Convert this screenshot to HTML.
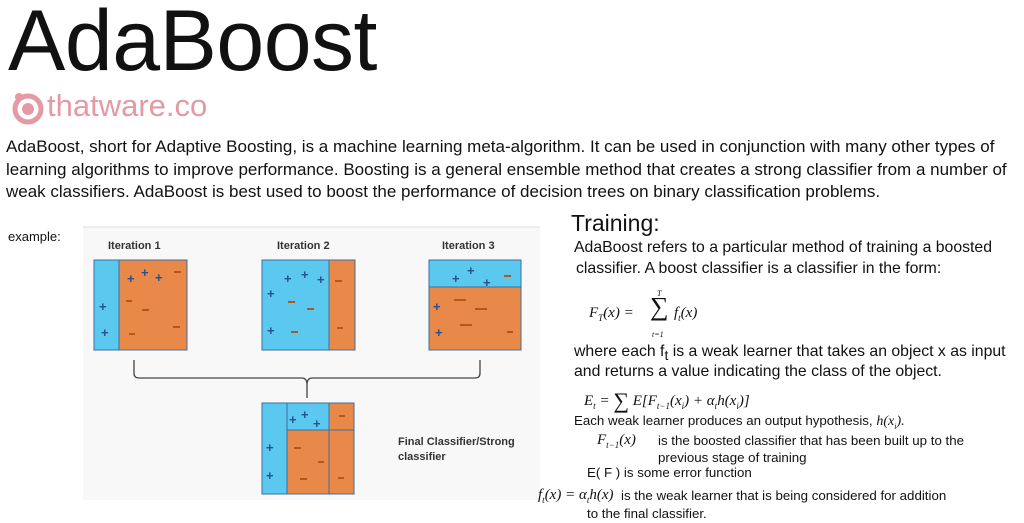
<!DOCTYPE html>
<html><head><meta charset="utf-8"><style>
body{margin:0;width:1024px;height:523px;background:#fff;position:relative;overflow:hidden;font-family:"Liberation Sans",sans-serif;color:#111}
.a{position:absolute;white-space:nowrap}
.m{font-family:"Liberation Serif",serif;font-style:italic}
.p{font-size:17px;line-height:22.5px;left:6px}
.t{font-size:15.8px}
.s{font-size:13.3px}
</style></head><body>
<div class="a" style="left:8px;top:-8px;font-size:86px;letter-spacing:-0.5px">AdaBoost</div>
<svg class="a" style="left:10px;top:90px" width="38" height="36" viewBox="0 0 38 36"><circle cx="18" cy="19" r="13" fill="none" stroke="#e49aa5" stroke-width="5"/><circle cx="18" cy="19" r="6" fill="#e49aa5"/><circle cx="9" cy="7" r="4" fill="#e49aa5"/></svg>
<div class="a" style="left:47px;top:88px;font-size:31px;color:#e49aa5">thatware.co</div>
<div class="a p" style="top:136px">AdaBoost, short for Adaptive Boosting, is a machine learning meta-algorithm. It can be used in conjunction with many other types of</div>
<div class="a p" style="top:158.5px">learning algorithms to improve performance. Boosting is a general ensemble method that creates a strong classifier from a number of</div>
<div class="a p" style="top:181px">weak classifiers. AdaBoost is best used to boost the performance of decision trees on binary classification problems.</div>
<div class="a" style="left:8px;top:229px;font-size:13px">example:</div>
<svg class="a" style="left:83px;top:226px" width="460" height="276" viewBox="83 226 460 276">
<rect x="83" y="227" width="457" height="273" fill="#f8f8f9"/>
<line x1="83" y1="227" x2="540" y2="227" stroke="#ddd"/>
<g font-family="Liberation Sans" font-weight="bold" font-size="11" fill="#333">
<text x="108" y="249">Iteration 1</text><text x="277" y="249">Iteration 2</text><text x="442" y="249">Iteration 3</text>
<text x="398" y="445">Final Classifier/Strong</text><text x="398" y="460">classifier</text></g>
<g stroke="#3d6f9e" stroke-width="1">
<rect x="94" y="260" width="25" height="90" fill="#5bc8f0"/><rect x="119" y="260" width="68" height="90" fill="#e8894a"/>
<rect x="262" y="260" width="67" height="90" fill="#5bc8f0"/><rect x="329" y="260" width="26" height="90" fill="#e8894a"/>
<rect x="429" y="260" width="92" height="27" fill="#5bc8f0"/><rect x="429" y="287" width="92" height="63" fill="#e8894a"/>
<rect x="262" y="403" width="25" height="91" fill="#5bc8f0"/><rect x="287" y="403" width="42" height="27" fill="#5bc8f0"/>
<rect x="287" y="430" width="42" height="64" fill="#e8894a"/><rect x="329" y="403" width="25" height="27" fill="#e8894a"/><rect x="329" y="430" width="25" height="64" fill="#e8894a"/>
</g>
<path d="M134 360 V373 Q134 378 139 378 H302 Q307 378 307 385 V398 M307 385 Q307 378 312 378 H475 Q480 378 480 373 V360" fill="none" stroke="#444" stroke-width="1.3"/>
<g fill="#2b4f8f" font-family="Liberation Sans" font-size="13" font-weight="bold">
<text x="99" y="311">+</text><text x="101" y="337">+</text><text x="127" y="283">+</text><text x="141" y="277">+</text><text x="155" y="282">+</text>
<text x="267" y="298">+</text><text x="267" y="335">+</text><text x="284" y="283">+</text><text x="301" y="279">+</text><text x="317" y="284">+</text>
<text x="452" y="283">+</text><text x="467" y="275">+</text><text x="483" y="287">+</text><text x="433" y="311">+</text><text x="435" y="337">+</text>
<text x="266" y="452">+</text><text x="266" y="480">+</text><text x="289" y="424">+</text><text x="301" y="419">+</text><text x="313" y="428">+</text>
</g>
<g stroke="#b5561f" stroke-width="2">
<line x1="174" y1="272" x2="181" y2="272"/><line x1="126" y1="301" x2="132" y2="301"/><line x1="142" y1="310" x2="149" y2="310"/><line x1="173" y1="327" x2="180" y2="327"/><line x1="129" y1="334" x2="135" y2="334"/>
<line x1="335" y1="281" x2="342" y2="281"/><line x1="288" y1="302" x2="295" y2="302"/><line x1="307" y1="309" x2="314" y2="309"/><line x1="337" y1="328" x2="343" y2="328"/><line x1="291" y1="332" x2="298" y2="332"/>
<line x1="504" y1="276" x2="511" y2="276"/><line x1="454" y1="300" x2="466" y2="300"/><line x1="475" y1="309" x2="487" y2="309"/><line x1="460" y1="325" x2="472" y2="325"/><line x1="507" y1="332" x2="513" y2="332"/>
<line x1="339" y1="416" x2="345" y2="416"/><line x1="294" y1="448" x2="301" y2="448"/><line x1="318" y1="462" x2="324" y2="462"/><line x1="300" y1="479" x2="307" y2="479"/><line x1="338" y1="478" x2="344" y2="478"/>
</g></svg>
<div class="a" style="left:571px;top:210px;font-size:23px">Training:</div>
<div class="a t" style="left:574px;top:239px">AdaBoost refers to a particular method of training a boosted</div>
<div class="a t" style="left:576px;top:260px">classifier. A boost classifier is a classifier in the form:</div>
<div class="a m" style="left:589px;top:305px;font-size:15px">F<sub style="font-size:9px">T</sub>(x) =</div>
<div class="a" style="left:650px;top:292px;font-family:'Liberation Serif',serif;font-size:26px">∑</div>
<div class="a m" style="left:657px;top:289px;font-size:8px">T</div>
<div class="a m" style="left:652px;top:330px;font-size:8px">t=1</div>
<div class="a m" style="left:674px;top:305px;font-size:15px">f<sub style="font-size:9px">t</sub>(x)</div>
<div class="a t" style="left:574px;top:343px">where each f<sub style="font-size:14px">t</sub> is a weak learner that takes an object x as input</div>
<div class="a t" style="left:574px;top:363px">and returns a value indicating the class of the object.</div>
<div class="a m" style="left:584px;top:388px;font-size:15px">E<sub style="font-size:9px">t</sub> = <span style="font-style:normal;font-size:22px;vertical-align:-3px">∑</span> E[F<sub style="font-size:9px">t−1</sub>(x<sub style="font-size:9px">i</sub>) + α<sub style="font-size:9px">t</sub>h(x<sub style="font-size:9px">i</sub>)]</div>
<div class="a s" style="left:574px;top:413px">Each weak learner produces an output hypothesis, <span class="m" style="font-size:14px">h(x<sub style="font-size:8px">i</sub>).</span></div>
<div class="a m" style="left:597px;top:432px;font-size:15px">F<sub style="font-size:9px">t−1</sub>(x)</div>
<div class="a s" style="left:658px;top:433px">is the boosted classifier that has been built up to the</div>
<div class="a s" style="left:658px;top:450px">previous stage of training</div>
<div class="a s" style="left:587px;top:465px">E( F ) is some error function</div>
<div class="a m" style="left:538px;top:487px;font-size:15px">f<sub style="font-size:9px">t</sub>(x) = α<sub style="font-size:9px">t</sub>h(x)</div>
<div class="a s" style="left:621px;top:488px">is the weak learner that is being considered for addition</div>
<div class="a s" style="left:587px;top:506px">to the final classifier.</div>
</body></html>
